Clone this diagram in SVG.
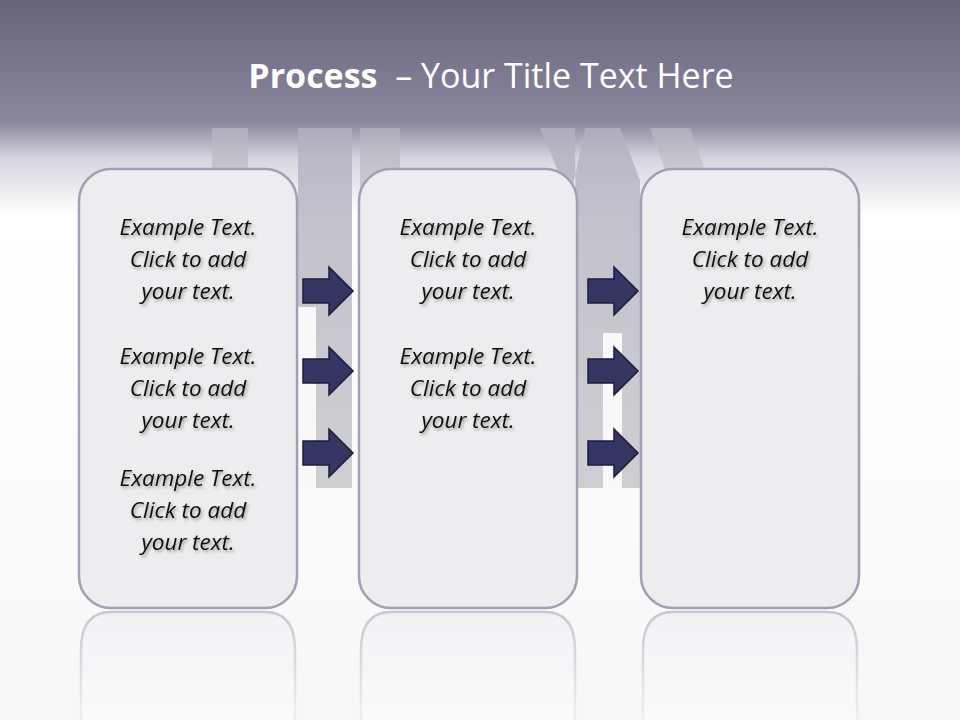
<svg xmlns="http://www.w3.org/2000/svg" width="960" height="720" viewBox="0 0 960 720">
<defs>
<linearGradient id="bg" x1="0" y1="0" x2="0" y2="1">
<stop offset="0" stop-color="#67647a"/>
<stop offset="0.17" stop-color="#8a879e"/>
<stop offset="0.22" stop-color="#d6d5de"/>
<stop offset="0.3" stop-color="#ffffff"/>
<stop offset="1" stop-color="#f7f7f8"/>
</linearGradient>
<linearGradient id="road" x1="0" y1="0" x2="0" y2="1">
<stop offset="0" stop-color="#b4b2c0"/>
<stop offset="1" stop-color="#c8c8cc"/>
</linearGradient>
<linearGradient id="refl" x1="0" y1="0" x2="0" y2="1">
<stop offset="0" stop-color="#f2f2f5"/>
<stop offset="1" stop-color="#fafafa"/>
</linearGradient>
<linearGradient id="reflS" x1="0" y1="0" x2="0" y2="1">
<stop offset="0" stop-color="#c8c7d0"/>
<stop offset="1" stop-color="#f0f0f2"/>
</linearGradient>
<filter id="sh" x="-10%" y="-10%" width="120%" height="130%">
<feDropShadow dx="1.5" dy="2" stdDeviation="1.5" flood-color="#000" flood-opacity="0.35"/>
</filter>
<path id="arrow" d="M0,-12 H26 V-24 L50,0 L26,24 V12 H0 Z"/>
</defs>
<style>
.box{fill:#ededf0;stroke:#a19fb2;stroke-width:2.5}
.refl{fill:url(#refl);stroke:url(#reflS);stroke-width:2.5}
.arr{fill:#363664;stroke:#1c1c3c;stroke-width:1.5}
.t{font-family:"Open Sans","Liberation Sans",sans-serif;font-style:italic;font-size:22.5px;fill:#111;text-anchor:middle;filter:url(#sh)}
.title{font-family:"Open Sans","Liberation Sans",sans-serif;font-size:34px;fill:#fff;text-anchor:middle}
</style>
<rect width="960" height="720" fill="url(#bg)"/>
<g id="background-roads" fill="url(#road)" opacity="0.85">
<rect x="212" y="128" width="36" height="60"/>
<rect x="298" y="128" width="54" height="360"/>
<rect x="360" y="128" width="40" height="60"/>
<polygon points="540,128 575,128 577,488 640,488 640,180 620,128 585,128 570,200"/>
<polygon points="650,128 690,128 705,170 665,170"/>
<rect x="298" y="307" width="18" height="181" fill="#f8f8f9"/>
<rect x="603" y="333" width="19" height="155" fill="#f8f8f9"/>
</g>
<g id="title"><text class="title" x="491" y="88" xml:space="preserve"><tspan font-weight="bold">Process</tspan>  – Your Title Text Here</text></g>
<g id="reflections">
<path class="refl" d="M81,720 V650 Q81,612 111,612 H265 Q295,612 295,650 V720"/>
<path class="refl" d="M361,720 V650 Q361,612 391,612 H545 Q575,612 575,650 V720"/>
<path class="refl" d="M643,720 V650 Q643,612 673,612 H827 Q857,612 857,650 V720"/>
</g>
<g id="node1">
<rect class="box" x="79" y="169" width="218" height="439" rx="32"/>
<text class="t"><tspan x="188" y="235">Example Text.</tspan><tspan x="188" y="267">Click  to add</tspan><tspan x="188" y="299">your text.</tspan></text>
<text class="t"><tspan x="188" y="364">Example Text.</tspan><tspan x="188" y="396">Click  to add</tspan><tspan x="188" y="428">your text.</tspan></text>
<text class="t"><tspan x="188" y="486">Example Text.</tspan><tspan x="188" y="518">Click  to add</tspan><tspan x="188" y="550">your text.</tspan></text>
</g>
<g id="node2">
<rect class="box" x="359" y="169" width="218" height="439" rx="32"/>
<text class="t"><tspan x="468" y="235">Example Text.</tspan><tspan x="468" y="267">Click  to add</tspan><tspan x="468" y="299">your text.</tspan></text>
<text class="t"><tspan x="468" y="364">Example Text.</tspan><tspan x="468" y="396">Click  to add</tspan><tspan x="468" y="428">your text.</tspan></text>
</g>
<g id="node3">
<rect class="box" x="641" y="169" width="218" height="439" rx="32"/>
<text class="t"><tspan x="750" y="235">Example Text.</tspan><tspan x="750" y="267">Click  to add</tspan><tspan x="750" y="299">your text.</tspan></text>
</g>
<g id="connectors">
<use href="#arrow" class="arr" x="303" y="291"/>
<use href="#arrow" class="arr" x="303" y="371"/>
<use href="#arrow" class="arr" x="303" y="453"/>
<use href="#arrow" class="arr" x="588" y="291"/>
<use href="#arrow" class="arr" x="588" y="371"/>
<use href="#arrow" class="arr" x="588" y="453"/>
</g>
</svg>
